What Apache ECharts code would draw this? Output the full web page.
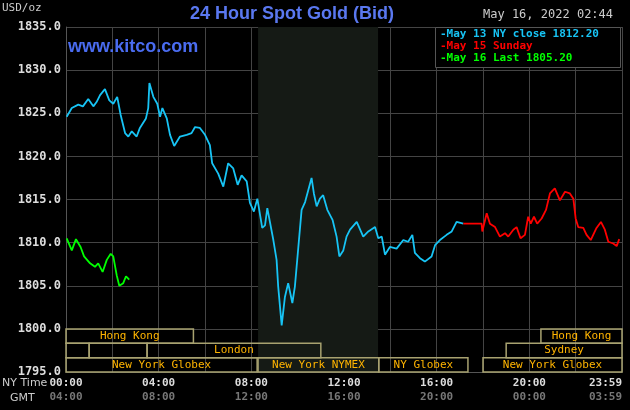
<!DOCTYPE html>
<html>
<head>
<meta charset="utf-8"/>
<script src="https://cdn.jsdelivr.net/npm/echarts@6.0.0/dist/echarts.min.js"></script>
<style>html,body{margin:0;background:#000;}</style>
</head>
<body>
<div id="main" style="width:630px;height:410px;"></div>
<script>
// [NY hour, price]
var may13 = [[0.03,1824.6],[0.25,1825.6],[0.53,1826.0],[0.73,1825.8],[0.96,1826.65],[1.18,1825.8],[1.32,1826.3],[1.47,1827.1],[1.68,1827.8],[1.87,1826.5],[2.04,1826.1],[2.21,1826.9],[2.36,1824.8],[2.55,1822.7],[2.69,1822.3],[2.84,1822.9],[3.05,1822.3],[3.19,1823.3],[3.45,1824.4],[3.55,1825.6],[3.6,1828.5],[3.77,1826.9],[3.94,1826.1],[4.06,1824.6],[4.16,1825.6],[4.35,1824.4],[4.49,1822.5],[4.67,1821.2],[4.92,1822.3],[5.21,1822.5],[5.42,1822.7],[5.57,1823.4],[5.78,1823.3],[6.0,1822.5],[6.21,1821.3],[6.31,1819.2],[6.57,1818.0],[6.79,1816.5],[7.0,1819.2],[7.22,1818.6],[7.41,1816.7],[7.58,1817.8],[7.8,1817.1],[7.94,1814.6],[8.11,1813.6],[8.26,1815.1],[8.47,1811.7],[8.59,1812.0],[8.69,1814.0],[8.95,1810.3],[9.09,1808.0],[9.16,1804.9],[9.31,1800.4],[9.45,1803.7],[9.59,1805.3],[9.77,1803.0],[9.88,1804.9],[10.03,1809.5],[10.17,1813.8],[10.32,1814.7],[10.46,1816.1],[10.6,1817.5],[10.7,1815.7],[10.82,1814.2],[10.96,1815.1],[11.1,1815.5],[11.28,1813.8],[11.51,1812.6],[11.68,1810.7],[11.8,1808.4],[11.97,1809.1],[12.11,1810.7],[12.26,1811.5],[12.55,1812.4],[12.83,1810.7],[13.05,1811.3],[13.34,1811.8],[13.48,1810.5],[13.63,1810.7],[13.77,1808.6],[13.98,1809.5],[14.27,1809.3],[14.56,1810.3],[14.77,1810.1],[14.95,1810.9],[15.06,1808.8],[15.28,1808.2],[15.49,1807.8],[15.78,1808.4],[15.93,1809.7],[16.14,1810.3],[16.43,1810.9],[16.65,1811.3],[16.86,1812.4],[17.15,1812.2]];
var may15 = [[17.15,1812.2],[17.94,1812.2],[17.97,1811.3],[18.16,1813.4],[18.3,1812.2],[18.52,1811.8],[18.73,1810.7],[18.95,1811.1],[19.09,1810.7],[19.31,1811.5],[19.45,1811.8],[19.62,1810.5],[19.81,1810.9],[19.95,1813.0],[20.06,1812.2],[20.2,1813.0],[20.34,1812.2],[20.53,1812.8],[20.72,1813.8],[20.89,1815.7],[21.1,1816.3],[21.32,1814.9],[21.54,1815.9],[21.75,1815.7],[21.9,1815.1],[22.0,1812.8],[22.11,1811.8],[22.33,1811.7],[22.47,1810.9],[22.65,1810.3],[22.9,1811.7],[23.09,1812.4],[23.26,1811.5],[23.41,1810.1],[23.62,1809.9],[23.77,1809.6],[23.88,1810.4]];
var may16 = [[0.03,1810.5],[0.25,1809.1],[0.43,1810.4],[0.63,1809.5],[0.78,1808.4],[1.04,1807.6],[1.25,1807.2],[1.39,1807.6],[1.58,1806.6],[1.76,1808.0],[1.93,1808.7],[2.04,1808.4],[2.19,1806.2],[2.3,1805.0],[2.47,1805.3],[2.59,1806.1],[2.73,1805.7]];
// [row, start hour, end hour, label]
var sessions = [[0,0,5.5,'Hong Kong'],[0,20.5,24,'Hong Kong'],[1,0,1,''],[1,1,3.5,''],[1,3.5,11,'London'],[1,19,24,'Sydney'],[2,0,8.25,'New York Globex'],[2,8.29,13.5,'New York NYMEX'],[2,13.5,17.35,'NY Globex'],[2,18,24,'New York Globex']];
var nymex = [8.29, 13.47];
var nyTicks = {0:'00:00',4:'04:00',8:'08:00',12:'12:00',16:'16:00',20:'20:00',24:'23:59'};
var gmtTicks = {0:'04:00',4:'08:00',8:'12:00',12:'16:00',16:'20:00',20:'00:00',24:'03:59'};
var yTicks = [1795, 1835, 5];

var mono = 'DejaVu Sans Mono';
var chart = echarts.init(document.getElementById('main'));
chart.setOption({
  backgroundColor: '#000',
  animation: false,
  grid: {left: 66, right: 8, top: 27, bottom: 38},
  xAxis: {
    type: 'value', min: 0, max: 24, interval: 2,
    axisLine: {lineStyle: {color: '#555'}}, axisTick: {show: false},
    splitLine: {lineStyle: {color: '#444'}},
    axisLabel: {
      margin: 6, alignMaxLabel: 'right', fontFamily: mono, fontSize: 11, color: '#ddd', fontWeight: 'bold',
      formatter: function (v) { return nyTicks[v] ? nyTicks[v] + '\n{g|' + gmtTicks[v] + '}' : ''; },
      rich: {g: {color: '#777', fontFamily: mono, fontSize: 11, fontWeight: 'bold', padding: [3,0,0,0]}}
    }
  },
  yAxis: {
    type: 'value', min: yTicks[0], max: yTicks[1], interval: yTicks[2],
    axisLine: {show: true, lineStyle: {color: '#555'}}, axisTick: {show: false},
    splitLine: {lineStyle: {color: '#444'}},
    axisLabel: {fontFamily: mono, fontSize: 12, color: '#ddd', fontWeight: 'bold', margin: 5,
      formatter: function (v) { return v.toFixed(1); }}
  },
  graphic: [
    {type: 'text', left: 2, top: 3, style: {text: 'USD/oz', fill: '#ccc', font: '11px "DejaVu Sans Mono"'}},
    {type: 'text', left: 190, top: 5, style: {text: '24 Hour Spot Gold (Bid)', fill: '#5a78f0', font: 'bold 18px "Liberation Sans"'}},
    {type: 'text', left: 68, top: 38, z: 10, style: {text: 'www.kitco.com', fill: '#4a6cf0', font: 'bold 18px "Liberation Sans"'}},
    {type: 'text', left: 483, top: 9, style: {text: 'May 16, 2022 02:44', fill: '#ccc', font: '12px "DejaVu Sans Mono"'}},
    {type: 'rect', left: 435, top: 27, z: 10, shape: {width: 185, height: 40}, style: {fill: '#000', stroke: '#555'}},
    {type: 'text', left: 440, top: 29, z: 11, style: {text: '-May 13 NY close 1812.20', fill: '#17c4f5', font: 'bold 11px "DejaVu Sans Mono"'}},
    {type: 'text', left: 440, top: 41, z: 11, style: {text: '-May 15 Sunday', fill: '#f00', font: 'bold 11px "DejaVu Sans Mono"'}},
    {type: 'text', left: 440, top: 53, z: 11, style: {text: '-May 16 Last 1805.20', fill: '#0f0', font: 'bold 11px "DejaVu Sans Mono"'}},
    {type: 'text', left: 2, top: 378, style: {text: 'NY Time', fill: '#ccc', font: '11px "DejaVu Sans"'}},
    {type: 'text', left: 10, top: 393, style: {text: 'GMT', fill: '#ccc', font: '11px "DejaVu Sans"'}}
  ],
  series: [
    {type: 'line', data: may13, showSymbol: false, lineStyle: {color: '#17c4f5', width: 1.8}, z: 3,
      markArea: {silent: true, itemStyle: {color: '#151a15'}, data: [[{xAxis: nymex[0]}, {xAxis: nymex[1]}]]}},
    {type: 'line', data: may15, showSymbol: false, lineStyle: {color: '#f00', width: 1.8}, z: 3},
    {type: 'line', data: may16, showSymbol: false, lineStyle: {color: '#0f0', width: 1.8}, z: 3},
    {type: 'custom', z: 4, data: sessions,
      renderItem: function (params, api) {
        var row = api.value(0);
        var top = 1800 - row * 5 / 3, bot = top - 5 / 3;
        var p1 = api.coord([api.value(1), top]), p2 = api.coord([api.value(2), bot]);
        var lbl = sessions[params.dataIndex][3];
        return {type: 'group', children: [
          {type: 'rect', shape: {x: p1[0], y: p1[1], width: p2[0] - p1[0], height: p2[1] - p1[1]},
            style: {fill: 'rgba(0,0,0,0)', stroke: '#a8a270', lineWidth: 1.5}},
          {type: 'text', style: {text: lbl, x: (p1[0] + p2[0]) / 2, y: (p1[1] + p2[1]) / 2,
            align: 'center', verticalAlign: 'middle', fill: '#ffb400', font: '11px "DejaVu Sans Mono"'}}
        ]};
      }}
  ]
});
</script>
</body>
</html>
